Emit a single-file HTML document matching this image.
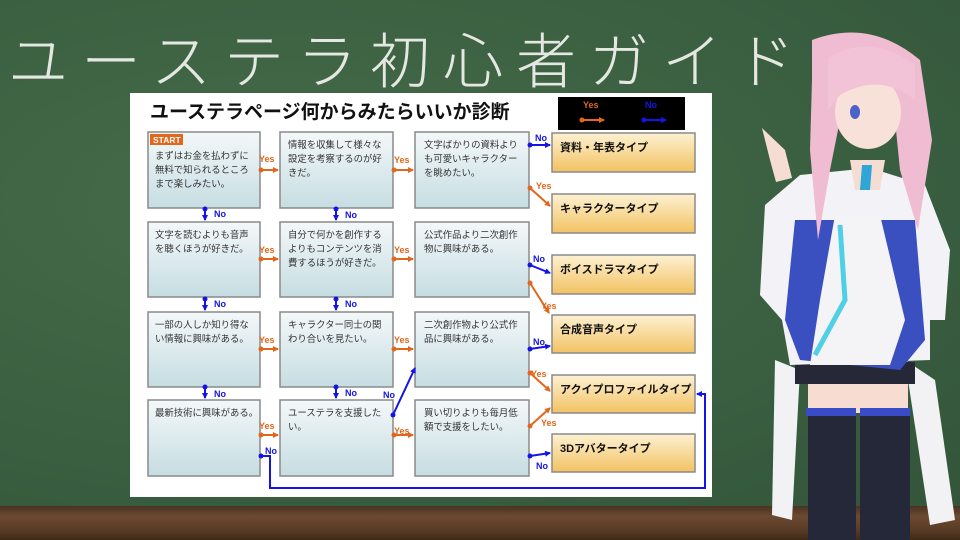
<!DOCTYPE html>
<html><head><meta charset="utf-8"><style>
html,body{margin:0;padding:0}
body{width:960px;height:540px;overflow:hidden;position:relative;background:#3d6443;font-family:"Liberation Sans","Noto Sans CJK JP",sans-serif}
.board{position:absolute;left:0;top:0;width:960px;height:508px;background:radial-gradient(ellipse at 30% 40%,#456c4a 0%,#3c6142 50%,#33553a 100%)}
.tray{position:absolute;left:0;top:506px;width:960px;height:34px;background:linear-gradient(#4a3222,#6b4a30 30%,#5a3c26 70%,#3e2918)}
.title{position:absolute;left:8px;top:14px;font-size:60px;color:#f2f2ee;letter-spacing:13px;font-family:"Noto Sans CJK JP",sans-serif;font-weight:300;white-space:nowrap;opacity:.93}
</style></head><body>
<div class="board"></div>
<div class="tray"></div>
<div class="title">ユーステラ初心者ガイド</div>
<svg width="960" height="540" style="position:absolute;left:0;top:0" font-family="Liberation Sans, Noto Sans CJK JP, sans-serif">
<defs>
<linearGradient id="bl" x1="0" y1="0" x2="0" y2="1"><stop offset="0" stop-color="#f4f8f9"/><stop offset="1" stop-color="#c6dde2"/></linearGradient>
<linearGradient id="or" x1="0" y1="0" x2="0" y2="1"><stop offset="0" stop-color="#fdf1d2"/><stop offset="1" stop-color="#f2c262"/></linearGradient>
<marker id="ao" markerWidth="6" markerHeight="6" refX="5" refY="3" orient="auto" markerUnits="userSpaceOnUse"><path d="M0,0L6,3L0,6z" fill="#e2661c"/></marker>
<marker id="ab" markerWidth="6" markerHeight="6" refX="5" refY="3" orient="auto" markerUnits="userSpaceOnUse"><path d="M0,0L6,3L0,6z" fill="#1414e6"/></marker>
</defs>
<rect x="130" y="93" width="582" height="404" fill="#fff"/>
<text x="150" y="118" font-size="19" font-weight="bold" fill="#111">ユーステラページ何からみたらいいか診断</text>
<rect x="558" y="97" width="127" height="33" fill="#000"/>
<text x="583" y="108" font-size="9" font-weight="bold" fill="#e2661c">Yes</text>
<text x="645" y="108" font-size="9" font-weight="bold" fill="#1414e6">No</text>
<g stroke-width="2" fill="none">
<line x1="582" y1="120" x2="604" y2="120" stroke="#e2661c" marker-end="url(#ao)"/>
<line x1="644" y1="120" x2="666" y2="120" stroke="#1414e6" marker-end="url(#ab)"/>
</g>
<circle cx="582" cy="120" r="2.5" fill="#e2661c"/><circle cx="644" cy="120" r="2.5" fill="#1414e6"/>
<g stroke="#8a8a8a" stroke-width="1.5" fill="url(#bl)">
<rect x="148" y="132" width="112" height="76"/><rect x="280" y="132" width="113" height="76"/><rect x="415" y="132" width="114" height="76"/>
<rect x="148" y="222" width="112" height="75"/><rect x="280" y="222" width="113" height="75"/><rect x="415" y="222" width="114" height="75"/>
<rect x="148" y="312" width="112" height="75"/><rect x="280" y="312" width="113" height="75"/><rect x="415" y="312" width="114" height="75"/>
<rect x="148" y="400" width="112" height="76"/><rect x="280" y="400" width="113" height="76"/><rect x="415" y="400" width="114" height="76"/>
</g>
<g stroke="#8a8a8a" stroke-width="1.5" fill="url(#or)">
<rect x="552" y="133" width="143" height="39"/><rect x="552" y="194" width="143" height="39"/><rect x="552" y="255" width="143" height="39"/>
<rect x="552" y="315" width="143" height="38"/><rect x="552" y="375" width="143" height="38"/><rect x="552" y="434" width="143" height="38"/>
</g>
<rect x="150" y="134" width="33" height="11" fill="#e2661c"/>
<text x="153" y="143" font-size="8.5" font-weight="bold" fill="#fff">START</text>
<g font-size="9.4" fill="#333">
<text x="155" y="159">まずはお金を払わずに</text><text x="155" y="173">無料で知られるところ</text><text x="155" y="187">まで楽しみたい。</text>
<text x="288" y="148">情報を収集して様々な</text><text x="288" y="162">設定を考察するのが好</text><text x="288" y="176">きだ。</text>
<text x="424" y="148">文字ばかりの資料より</text><text x="424" y="162">も可愛いキャラクター</text><text x="424" y="176">を眺めたい。</text>
<text x="155" y="238">文字を読むよりも音声</text><text x="155" y="252">を聴くほうが好きだ。</text>
<text x="288" y="238">自分で何かを創作する</text><text x="288" y="252">よりもコンテンツを消</text><text x="288" y="266">費するほうが好きだ。</text>
<text x="424" y="238">公式作品より二次創作</text><text x="424" y="252">物に興味がある。</text>
<text x="155" y="328">一部の人しか知り得な</text><text x="155" y="342">い情報に興味がある。</text>
<text x="288" y="328">キャラクター同士の関</text><text x="288" y="342">わり合いを見たい。</text>
<text x="424" y="328">二次創作物より公式作</text><text x="424" y="342">品に興味がある。</text>
<text x="155" y="416">最新技術に興味がある。</text>
<text x="288" y="416">ユーステラを支援した</text><text x="288" y="430">い。</text>
<text x="424" y="416">買い切りよりも毎月低</text><text x="424" y="430">額で支援をしたい。</text>
</g>
<g font-size="11" font-weight="bold" fill="#111">
<text x="560" y="151">資料・年表タイプ</text><text x="560" y="212">キャラクタータイプ</text><text x="560" y="273">ボイスドラマタイプ</text>
<text x="560" y="333">合成音声タイプ</text><text x="560" y="393">アクイプロファイルタイプ</text><text x="560" y="452">3Dアバタータイプ</text>
</g>
<g stroke-width="2" fill="none">
<g stroke="#e2661c" marker-end="url(#ao)">
<line x1="261" y1="170" x2="278" y2="170"/><line x1="394" y1="170" x2="413" y2="170"/>
<line x1="261" y1="259" x2="278" y2="259"/><line x1="394" y1="259" x2="413" y2="259"/>
<line x1="261" y1="349" x2="278" y2="349"/><line x1="394" y1="349" x2="413" y2="349"/>
<line x1="261" y1="435" x2="278" y2="435"/><line x1="394" y1="435" x2="413" y2="435"/>
<line x1="530" y1="188" x2="550" y2="206"/><line x1="530" y1="283" x2="549" y2="313"/>
<line x1="530" y1="373" x2="550" y2="391"/><line x1="530" y1="426" x2="550" y2="408"/>
</g>
<g stroke="#1414e6" marker-end="url(#ab)">
<line x1="205" y1="209" x2="205" y2="220"/><line x1="336" y1="209" x2="336" y2="220"/>
<line x1="205" y1="299" x2="205" y2="310"/><line x1="336" y1="299" x2="336" y2="310"/>
<line x1="205" y1="387" x2="205" y2="398"/><line x1="336" y1="387" x2="336" y2="398"/>
<line x1="530" y1="145" x2="550" y2="145"/><line x1="530" y1="265" x2="550" y2="273"/>
<line x1="530" y1="349" x2="550" y2="346"/><line x1="530" y1="456" x2="550" y2="453"/>
<line x1="393" y1="415" x2="415" y2="368"/>
<polyline points="261,456 270,456 270,488 705,488 705,394 697,394"/>
</g>
</g>
<g fill="#e2661c">
<circle cx="261" cy="170" r="2.5"/><circle cx="394" cy="170" r="2.5"/><circle cx="261" cy="259" r="2.5"/><circle cx="394" cy="259" r="2.5"/>
<circle cx="261" cy="349" r="2.5"/><circle cx="394" cy="349" r="2.5"/><circle cx="261" cy="435" r="2.5"/><circle cx="394" cy="435" r="2.5"/>
<circle cx="530" cy="188" r="2.5"/><circle cx="530" cy="283" r="2.5"/><circle cx="530" cy="373" r="2.5"/><circle cx="530" cy="426" r="2.5"/>
</g>
<g fill="#1414e6">
<circle cx="205" cy="209" r="2.5"/><circle cx="336" cy="209" r="2.5"/><circle cx="205" cy="299" r="2.5"/><circle cx="336" cy="299" r="2.5"/>
<circle cx="205" cy="387" r="2.5"/><circle cx="336" cy="387" r="2.5"/><circle cx="530" cy="145" r="2.5"/><circle cx="530" cy="265" r="2.5"/>
<circle cx="530" cy="349" r="2.5"/><circle cx="530" cy="456" r="2.5"/><circle cx="393" cy="415" r="2.5"/><circle cx="261" cy="456" r="2.5"/>
</g>
<g font-size="9" font-weight="bold" fill="#e2661c">
<text x="259" y="162">Yes</text><text x="394" y="163">Yes</text><text x="259" y="253">Yes</text><text x="394" y="253">Yes</text>
<text x="259" y="343">Yes</text><text x="394" y="343">Yes</text><text x="259" y="429">Yes</text><text x="394" y="434">Yes</text>
<text x="536" y="189">Yes</text><text x="541" y="309">Yes</text><text x="531" y="377">Yes</text><text x="541" y="426">Yes</text>
</g>
<g font-size="9" font-weight="bold" fill="#1414e6">
<text x="214" y="217">No</text><text x="345" y="218">No</text><text x="214" y="307">No</text><text x="345" y="307">No</text>
<text x="214" y="397">No</text><text x="345" y="396">No</text><text x="535" y="141">No</text><text x="533" y="262">No</text>
<text x="533" y="345">No</text><text x="536" y="469">No</text><text x="383" y="398">No</text><text x="265" y="454">No</text>
</g>
<!-- character approximation -->
<g>
<path d="M775,360 L800,370 L792,520 L772,515z" fill="#f2f2f5"/>
<path d="M905,360 L935,380 L955,520 L930,525z" fill="#f2f2f5"/>
<rect x="808" y="378" width="100" height="35" fill="#f7dcd2"/>
<rect x="808" y="410" width="48" height="130" fill="#252838"/><rect x="860" y="410" width="50" height="130" fill="#252838"/>
<rect x="806" y="408" width="50" height="8" fill="#3a4bc8"/><rect x="860" y="408" width="50" height="8" fill="#3a4bc8"/>
<rect x="795" y="362" width="120" height="22" fill="#262837"/>
<path d="M765,205 L800,175 L870,168 L925,185 L950,250 L945,320 L930,320 L930,360 L790,365 L782,320 L760,295z" fill="#f3f3f7"/>
<path d="M795,220 L915,220 L925,340 L900,370 L800,360 L785,320z" fill="#3a4fc0"/>
<path d="M835,215 L880,215 L905,320 L890,365 L810,365 L820,300z" fill="#f4f4f6"/>
<path d="M840,225 L845,300 L815,355" stroke="#4fd0e6" stroke-width="5" fill="none"/>
<path d="M850,160 L885,160 L880,190 L855,190z" fill="#f6ddd3"/>
<path d="M862,165 L872,165 L870,190 L860,190z" fill="#2ea7d6"/>
<path d="M812,40 Q870,18 920,60 L932,140 L918,230 L900,170 L895,120 L840,120 L830,170 L818,240 L810,150 L812,80z" fill="#f0bcd2"/>
<ellipse cx="868" cy="112" rx="33" ry="37" fill="#f8e1d8"/>
<path d="M828,58 Q870,32 915,65 L915,100 Q880,72 840,95 L828,110z" fill="#f2c2d6"/>
<ellipse cx="855" cy="112" rx="5" ry="7" fill="#4a62c9"/>
<path d="M762,128 L785,150 L792,178 L776,182 L770,160z" fill="#f6ddd3"/>
</g>
</svg>
</body></html>
